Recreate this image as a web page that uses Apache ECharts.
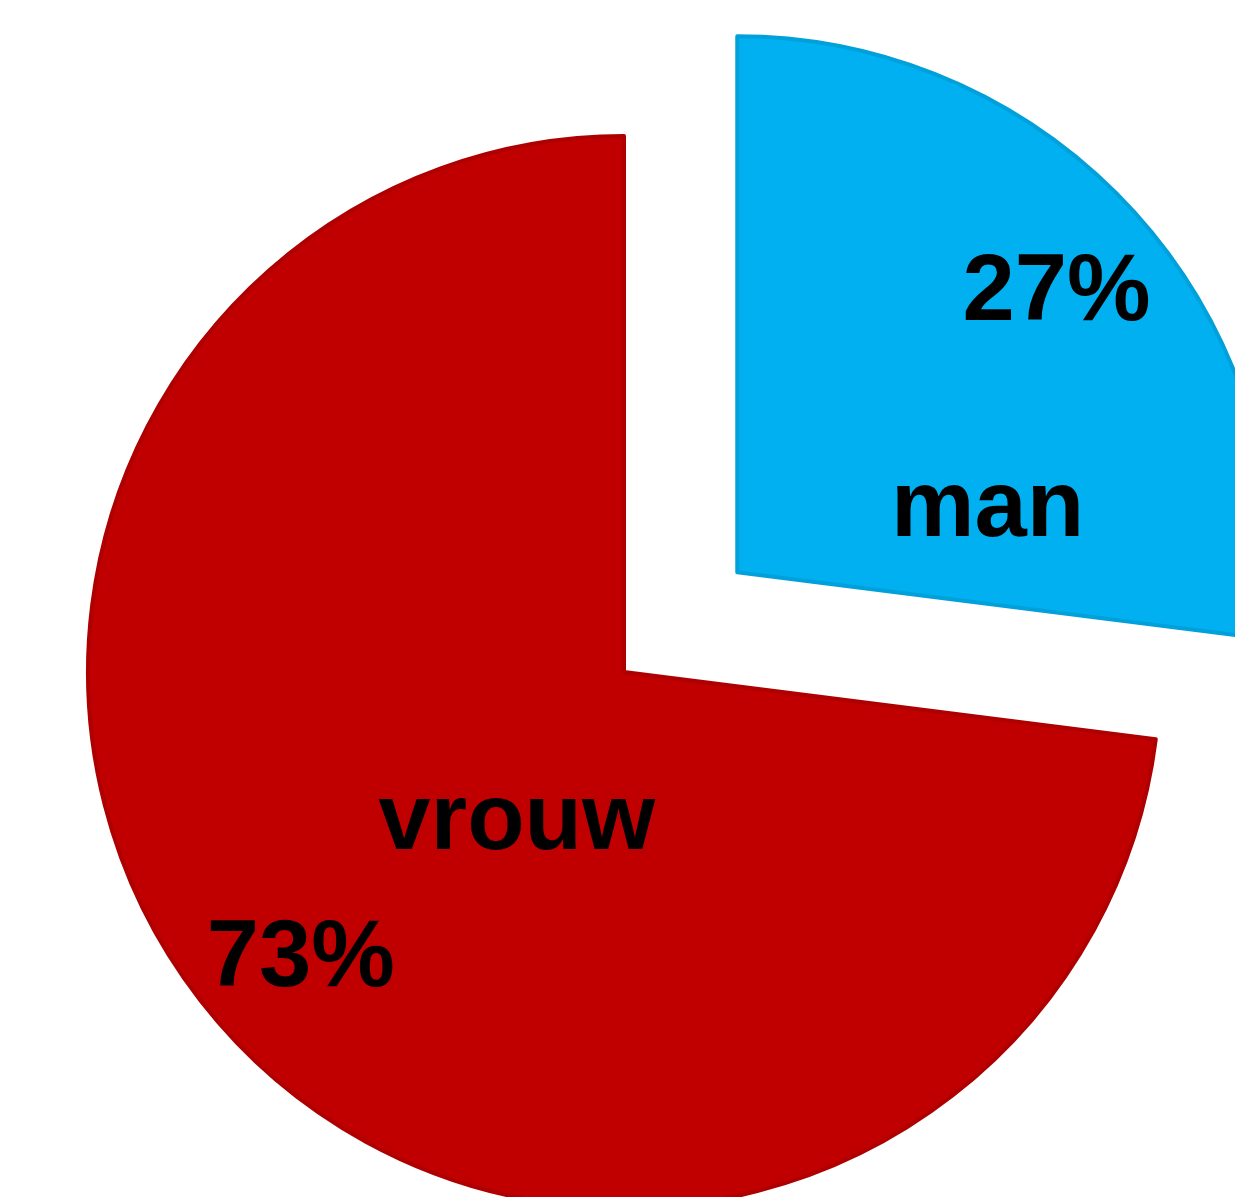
<!DOCTYPE html>
<html>
<head>
<meta charset="utf-8">
<script src="https://cdn.jsdelivr.net/npm/echarts@6/dist/echarts.min.js"></script>
<style>
html,body{margin:0;padding:0;background:#fff;}
#chart{width:1235px;height:1197px;}
</style>
</head>
<body>
<div id="chart"></div>
<script>
var categories = ['man', 'vrouw'];
var values = [27, 73];
var colors = ['#00B0F0', '#C00000'];
var borderColors = ['#00A0DA', '#AE0000'];
var exploded = [true, false];

var nameOffsets = [[47, 117], [96, -28]];
var percentOffsets = [[-4, 7], [0, 3]];

var chart = echarts.init(document.getElementById('chart'), null, {renderer: 'canvas'});

function buildData(withStyle) {
  return categories.map(function (c, i) {
    var d = {name: c, value: values[i], selected: exploded[i]};
    if (withStyle) {
      d.itemStyle = {color: colors[i], borderColor: borderColors[i], borderWidth: 4};
    } else {
      d.itemStyle = {color: 'rgba(0,0,0,0)', borderWidth: 0};
    }
    return d;
  });
}

var labelFont = {
  color: '#000',
  fontFamily: '"Liberation Sans", Arial, sans-serif',
  fontWeight: 'bold',
  fontSize: 94
};

var option = {
  animation: false,
  backgroundColor: '#ffffff',
  series: [
    {
      type: 'pie',
      center: [624, 672],
      radius: [0, 536],
      startAngle: 90,
      clockwise: true,
      selectedMode: 'multiple',
      selectedOffset: 151,
      silent: true,
      emphasis: {disabled: true},
      label: Object.assign({show: true, position: 'inside', formatter: '{b}'}, labelFont),
      labelLine: {show: false},
      labelLayout: function (p) {
        var o = nameOffsets[p.dataIndex];
        return {dx: o[0], dy: o[1]};
      },
      data: buildData(true)
    },
    {
      type: 'pie',
      center: [624, 672],
      radius: [320, 536],
      startAngle: 90,
      clockwise: true,
      selectedMode: 'multiple',
      selectedOffset: 151,
      silent: true,
      percentPrecision: 0,
      emphasis: {disabled: true},
      label: Object.assign({show: true, position: 'inside', formatter: '{d}%'}, labelFont),
      labelLine: {show: false},
      labelLayout: function (p) {
        var o = percentOffsets[p.dataIndex];
        return {dx: o[0], dy: o[1]};
      },
      data: buildData(false)
    }
  ]
};
chart.setOption(option);
</script>
</body>
</html>
